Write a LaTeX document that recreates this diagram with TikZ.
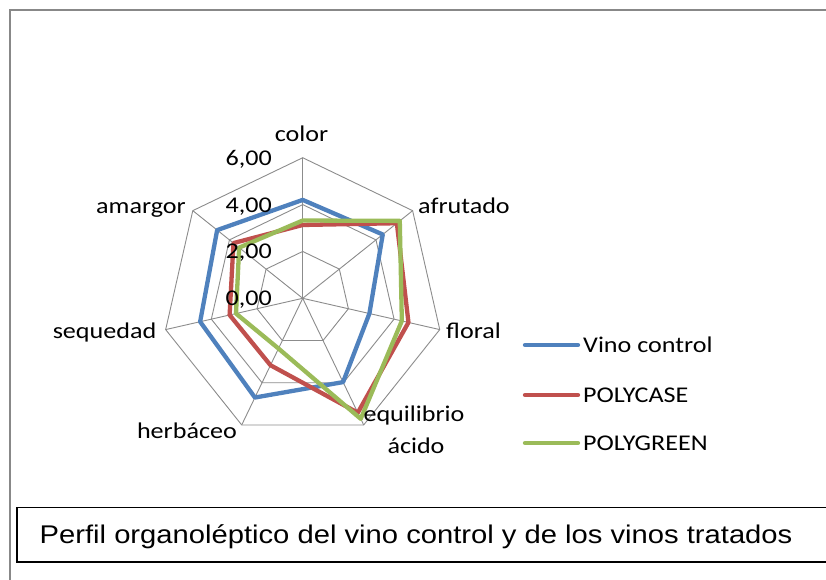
\documentclass[tikz,border=0pt]{standalone}
\usepackage{fontspec}
\setmainfont{Carlito}[FakeStretch=1.16]
\newfontfamily\capfont{Liberation Sans}[FakeStretch=1.14]
\usetikzlibrary{calc}
\definecolor{sblue}{HTML}{4F81BD}
\definecolor{sred}{HTML}{C0504D}
\definecolor{sgreen}{HTML}{9BBB59}
\definecolor{gridgray}{HTML}{8C8C8C}
\definecolor{framegray}{HTML}{888888}
\begin{document}
\begin{tikzpicture}[x=1pt,y=-1pt,
  grid/.style={draw=gridgray,line width=0.9pt},
  ser/.style={line width=4.3pt,line join=round},
  lab/.style={font=\fontsize{22.5}{26}\selectfont,inner sep=0pt,text=black},
  val/.style={lab,anchor=base east},
  legline/.style={ser,line cap=round}]
\useasboundingbox (0,0) rectangle (826,579);
\clip (0,0) rectangle (826,579);
\fill[white] (0,0) rectangle (826,579);
\draw[framegray,line width=2.5pt] (10,620) -- (10,10) -- (860,10);
% radar
\begin{scope}[shift={(302.7,298.3)}]
\def\u{23.43}
\foreach \l in {2,4,6}
  \draw[grid] (-90:{\l*\u}) \foreach \k in {1,...,6}{ -- ({-90+\k*360/7}:{\l*\u})} -- cycle;
\foreach \k in {0,...,6}
  \draw[grid] (0,0) -- ({-90+\k*360/7}:{6*\u});
\draw[ser,sblue] (-90:{4.2*\u}) -- (-38.571:{4.37*\u}) -- (12.857:{2.92*\u}) -- (64.286:{3.97*\u}) -- (115.714:{4.7*\u}) -- (167.143:{4.49*\u}) -- (218.571:{4.67*\u}) -- cycle;
\draw[ser,sred] (-90:{3.13*\u}) -- (-38.571:{5.14*\u}) -- (12.857:{4.63*\u}) -- (64.286:{5.42*\u}) -- (115.714:{3.17*\u}) -- (167.143:{3.2*\u}) -- (218.571:{3.78*\u}) -- cycle;
\draw[ser,sgreen] (-90:{3.32*\u}) -- (-38.571:{5.3*\u}) -- (12.857:{4.34*\u}) -- (64.286:{5.71*\u}) -- (115.714:{2.38*\u}) -- (167.143:{2.92*\u}) -- (218.571:{3.47*\u}) -- cycle;
\end{scope}
% value labels
\node[val] (v6) at (272,165.3) {6,00};
\node[val] (v4) at (272,212) {4,00};
\node[val] (v2) at (272,258.8) {2,00};
\node[val] (v0) at (272,305.5) {0,00};
% axis labels
\node[lab,anchor=base] (color) at (301.5,141) {color};
\node[lab,anchor=base west] (afrutado) at (418,213) {afrutado};
\node[lab,anchor=base west] (floral) at (446,338) {floral};
\node[lab,anchor=base] (equil) at (414,421) {equilibrio};
\node[lab,anchor=base] (acido) at (416,453) {ácido};
\node[lab,anchor=base east] (herb) at (237,438) {herbáceo};
\node[lab,anchor=base east] (seq) at (156.5,338) {sequedad};
\node[lab,anchor=base east] (amarg) at (186,213) {amargor};
% legend
\coordinate (l1a) at (525,345); \coordinate (l1b) at (578,345);
\coordinate (l2a) at (525,395); \coordinate (l2b) at (578,395);
\coordinate (l3a) at (525,443); \coordinate (l3b) at (578,443);
\draw[legline,sblue] (l1a) -- (l1b);
\draw[legline,sred] (l2a) -- (l2b);
\draw[legline,sgreen] (l3a) -- (l3b);
\node[lab,anchor=west] (t1) at (583,345) {Vino control};
\node[lab,anchor=west] (t2) at (583,395) {POLYCASE};
\node[lab,anchor=west] (t3) at (583,443) {POLYGREEN};
% caption
\draw[black,line width=1.3pt] (17,507.5) rectangle (880,562);
\node[font=\capfont\fontsize{25.6}{30}\selectfont,anchor=base west,inner sep=0pt] (cap) at (39.5,543.3) {Perfil organoléptico del vino control y de los vinos tratados};
\end{tikzpicture}
\end{document}
